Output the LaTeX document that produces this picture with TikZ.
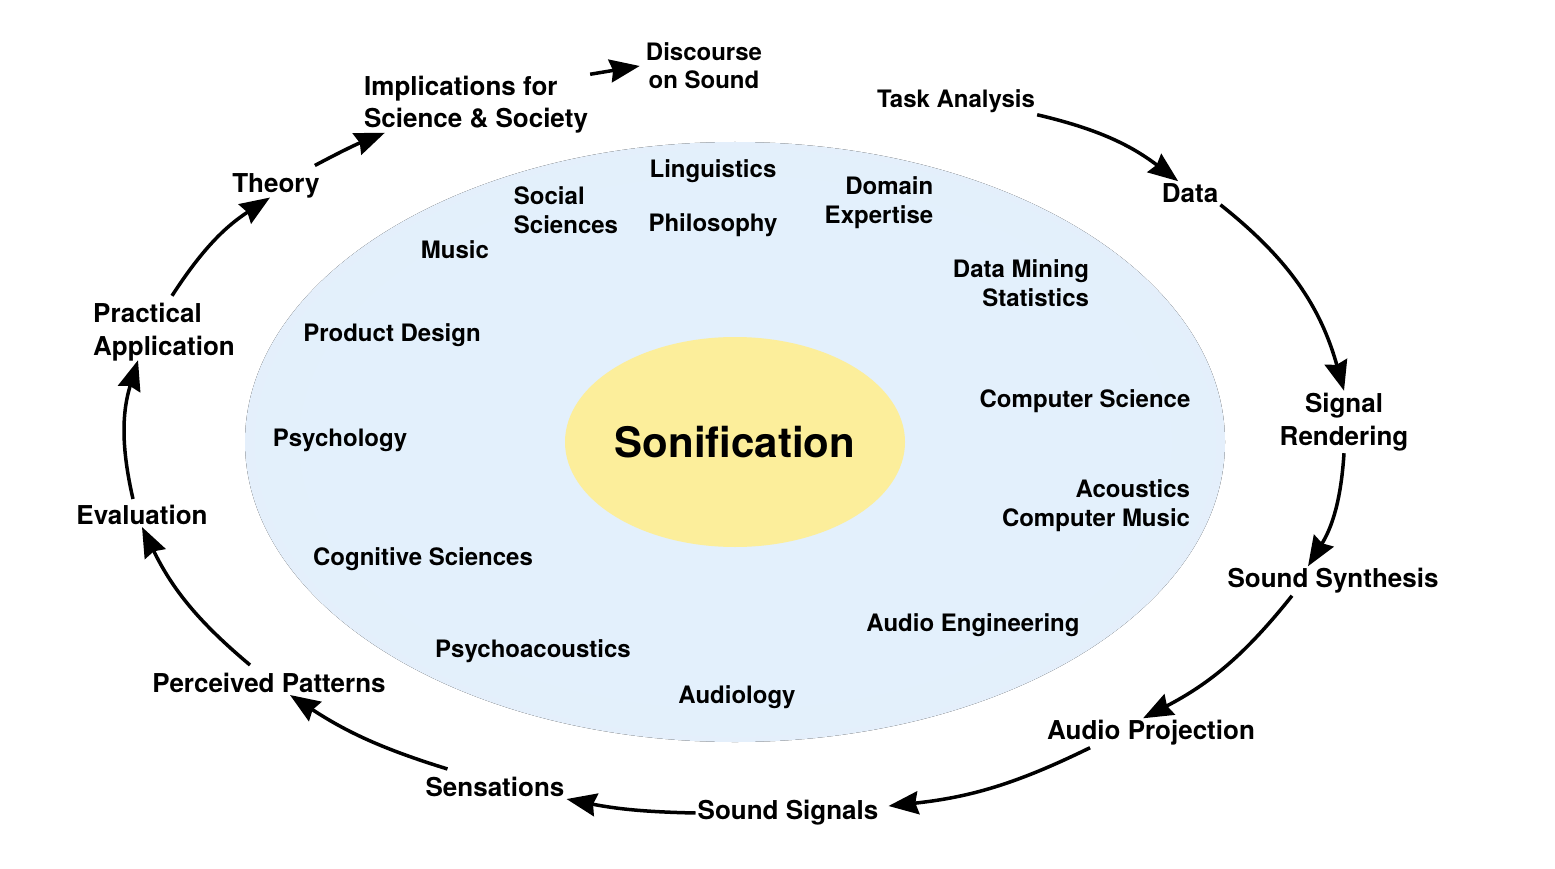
\documentclass[tikz,border=0pt]{standalone}
\usepackage{fontspec}
\setmainfont{TeX Gyre Heros}
\usetikzlibrary{arrows.meta}
\definecolor{ellin}{RGB}{227,240,252}
\definecolor{ellmid}{RGB}{229,238,248}
\definecolor{ellout}{RGB}{231,235,241}
\definecolor{sonyellow}{RGB}{252,238,155}
\pgfdeclareradialshading{bigell}{\pgfpoint{0bp}{0bp}}{color(0bp)=(ellin); color(20bp)=(ellin); color(38bp)=(ellmid); color(50bp)=(ellout)}
\begin{document}
\begin{tikzpicture}[x=1pt,y=1pt,
  outerlbl/.style={font=\fontsize{26}{33}\selectfont\bfseries, inner sep=2pt, align=center},
  innerlbl/.style={font=\fontsize{24}{29}\selectfont\bfseries, inner sep=2pt, align=center},
  arr/.style={line width=3.5pt, -{Stealth[length=30pt,width=23pt,inset=3pt]}}]
\useasboundingbox (0,0) rectangle (1555,-869);
\fill[white] (0,0) rectangle (1555,-869);
% ellipses
\fill[shading=bigell] (735,-442) ellipse (490pt and 300pt);
\fill[sonyellow] (735,-442) ellipse (170pt and 105pt);
\node[font=\fontsize{42}{50}\selectfont\bfseries, inner sep=0pt] (son) at (735,-442) {Sonification};
% inner disciplines
\node[innerlbl] (ling) at (713,-171) {Linguistics};
\node[innerlbl, align=left] (soc) at (566,-210) {Social\\Sciences};
\node[innerlbl] (phil) at (713,-225) {Philosophy};
\node[innerlbl, align=right] (dom) at (879,-203) {Domain\\Expertise};
\node[innerlbl] (mus) at (455,-250) {Music};
\node[innerlbl, align=right] (dm) at (1021,-283) {Data Mining\\Statistics};
\node[innerlbl] (pd) at (392,-335) {Product Design};
\node[innerlbl] (cs) at (1085,-401) {Computer Science};
\node[innerlbl] (psy) at (340,-440) {Psychology};
\node[innerlbl, align=right] (ac) at (1096,-506) {Acoustics\\Computer Music};
\node[innerlbl] (cog) at (423,-559) {Cognitive Sciences};
\node[innerlbl] (ae) at (973,-625) {Audio Engineering};
\node[innerlbl] (pa) at (533,-651) {Psychoacoustics};
\node[innerlbl] (aud) at (737,-697) {Audiology};
% outer cycle
\node[innerlbl, font=\fontsize{24}{28}\selectfont\bfseries] (disc) at (704,-66) {Discourse\\on Sound};
\node[outerlbl, align=left, font=\fontsize{26}{32}\selectfont\bfseries] (impl) at (476,-105) {Implications for\\Science \& Society};
\node[innerlbl] (task) at (956,-101) {Task Analysis};
\node[outerlbl] (data) at (1190,-193) {Data};
\node[outerlbl] (signal) at (1344,-422) {Signal\\Rendering};
\node[outerlbl] (synth) at (1333,-581) {Sound Synthesis};
\node[outerlbl] (proj) at (1151,-733) {Audio Projection};
\node[outerlbl] (signals) at (788,-813) {Sound Signals};
\node[outerlbl] (sens) at (495,-787) {Sensations};
\node[outerlbl] (perc) at (269,-683) {Perceived Patterns};
\node[outerlbl] (eval) at (142,-515) {Evaluation};
\node[outerlbl, align=left] (prac) at (164,-332) {Practical\\Application};
\node[outerlbl] (theory) at (276,-186) {Theory};
% arrows
\draw[arr] (impl.north east) -- ([xshift=-4pt]disc.west);
\draw[arr] (task.south east) to[bend left=12] (data.135);
\draw[arr] (data.south east) to[bend left=18] (signal.north);
\draw[arr] (signal.south) to[bend left=14] ([xshift=-25pt]synth.north);
\draw[arr] ([xshift=-41pt]synth.south) to[bend left=12] ([xshift=-8pt]proj.north);
\draw[arr] ([xshift=-61pt]proj.south) to[bend left=10] ([xshift=8pt,yshift=7pt]signals.east);
\draw[arr] (signals.west) to[bend left=5] (sens.south east);
\draw[arr] ([xshift=24pt,yshift=6pt]sens.north west) to[bend left=8] ([xshift=21pt]perc.south);
\draw[arr] ([xshift=-19pt,yshift=6pt]perc.north) to[bend left=12] (eval.south);
\draw[arr] ([xshift=-9pt,yshift=4pt]eval.north) to[bend left=15] ([xshift=-26pt,yshift=3pt]prac.south);
\draw[arr] ([xshift=8pt,yshift=5pt]prac.north) to[bend left=12] ([xshift=-6pt,yshift=3pt]theory.south);
\draw[arr] ([xshift=-7pt,yshift=6pt]theory.north east) to[bend left=3] ([xshift=23pt,yshift=3pt]impl.south west);
\end{tikzpicture}
\end{document}
